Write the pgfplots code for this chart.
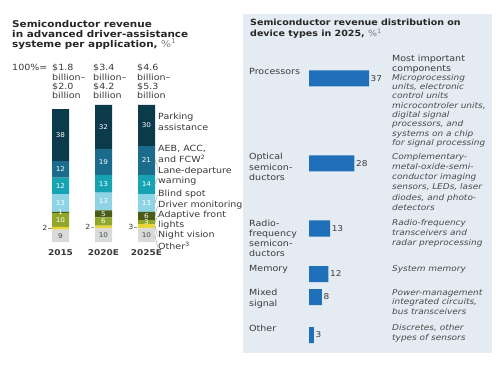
\documentclass[border=0pt]{standalone}
\usepackage{pgfplots}
\pgfplotsset{compat=1.18}
\usepackage{fontspec}
\setmainfont{DejaVu Sans}[FakeStretch=1.12]
\definecolor{park}{HTML}{0B3A4B}
\definecolor{aeb}{HTML}{1B6B8C}
\definecolor{lane}{HTML}{17A3B2}
\definecolor{blind}{HTML}{8FD4E4}
\definecolor{dm}{HTML}{4B5C19}
\definecolor{afl}{HTML}{90A72A}
\definecolor{nv}{HTML}{E8D53C}
\definecolor{oth}{HTML}{D8DADB}
\definecolor{panel}{HTML}{E4EBF2}
\definecolor{barblue}{HTML}{1F70B8}
\definecolor{txt}{HTML}{3A3A3A}
\definecolor{desc}{HTML}{4A4A4A}
\begin{document}
\begin{tikzpicture}
\path[use as bounding box, fill=white] (0,0) rectangle (500pt,367pt);
\fill[panel] (243pt,367pt-14pt) rectangle (492pt,367pt-353pt);

% ---------------- left stacked bars ----------------
\begin{axis}[
  at={(39pt,125pt)}, anchor=south west,
  scale only axis, width=129pt, height=137pt,
  xmin=-0.5, xmax=2.5, ymin=0, ymax=100,
  ybar stacked, bar width=17pt,
  axis line style={draw=none}, tick style={draw=none},
  xtick={0,1,2}, xticklabels={2015,2020E,2025E},
  xticklabel style={font=\bfseries\fontsize{8}{9}\selectfont, text=txt, yshift=-4pt},
  ytick=\empty,
  clip=false,
]
\addplot[fill=oth, draw=none] coordinates {(0,9) (1,10) (2,10)};
\addplot[fill=nv, draw=none] coordinates {(0,2) (1,2) (2,3)};
\addplot[fill=afl, draw=none] coordinates {(0,10) (1,6) (2,3)};
\addplot[fill=dm, draw=none] coordinates {(0,1) (1,5) (2,6)};
\addplot[fill=blind, draw=none] coordinates {(0,13) (1,13) (2,13)};
\addplot[fill=lane, draw=none] coordinates {(0,12) (1,13) (2,14)};
\addplot[fill=aeb, draw=none] coordinates {(0,12) (1,19) (2,21)};
\addplot[fill=park, draw=none] coordinates {(0,38) (1,32) (2,30)};
\end{axis}

% overlay axis with the segment values at segment centres
\begin{axis}[
  at={(39pt,125pt)}, anchor=south west,
  scale only axis, width=129pt, height=137pt,
  xmin=-0.5, xmax=2.5, ymin=0, ymax=100,
  hide axis, clip=false,
  point meta=explicit symbolic,
  nodes near coords,
  nodes near coords align=center,
  nodes near coords style={font=\fontsize{6.5}{7}\selectfont, inner sep=0pt, anchor=center},
]
\addplot[draw=none, mark=none, nodes near coords style={text=white}] table[meta=lab] {
x y lab
0 16 10
0 21.5 1
0 28.5 13
0 41 12
0 53 12
0 78 38
1 15 6
1 20.5 5
1 29.5 13
1 42.5 13
1 58.5 19
1 84 32
2 14.5 3
2 19 6
2 28.5 13
2 42 14
2 59.5 21
2 85 30
};
\addplot[draw=none, mark=none, nodes near coords style={text=desc}] table[meta=lab] {
x y lab
0 4.5 9
1 5 10
2 5 10
};
\end{axis}

% ---------------- right horizontal bars ----------------
\begin{axis}[
  at={(309pt,17pt)}, anchor=south west,
  scale only axis, width=60pt, height=290pt,
  xmin=0, xmax=37, ymin=-350, ymax=-60,
  xbar, bar width=16pt,
  hide axis, clip=false,
  point meta=x,
  /pgf/number format/assume math mode=true,
  nodes near coords,
  nodes near coords style={font=\fontsize{8}{9}\selectfont, text=txt, anchor=west, inner sep=1.5pt},
]
\addplot[fill=barblue, draw=none] coordinates {(37,-78.5) (28,-163.5) (13,-228.5) (12,-274) (8,-297) (3,-335)};
\end{axis}

% ---------------- texts (pixel coords from top-left) ----------------
\begin{scope}[x=1pt, y=-1pt, shift={(0,367pt)},
  lbl/.style={anchor=north west, inner sep=0pt, align=left, text=txt, font=\fontsize{8.5}{10.5}\selectfont},
  ttl/.style={anchor=north west, inner sep=0pt, align=left, text=black!85, font=\bfseries\fontsize{9.3}{10}\selectfont},
  dsc/.style={anchor=north west, inner sep=0pt, align=left, text=desc, font=\itshape\fontsize{8}{9.3}\selectfont},
]
% left title
\node[ttl] at (12,20) {Semiconductor revenue\\in advanced driver-assistance\\systeme per application, {\mdseries\color{gray}\%\textsuperscript{1}}};
\node[lbl, font=\fontsize{8.5}{9.4}\selectfont] at (12,64) {100\%=};
\node[lbl, font=\fontsize{8.5}{9.4}\selectfont] at (52,64) {\$1.8\\billion–\\\$2.0\\billion};
\node[lbl, font=\fontsize{8.5}{9.4}\selectfont] at (93,64) {\$3.4\\billion–\\\$4.2\\billion};
\node[lbl, font=\fontsize{8.5}{9.4}\selectfont] at (137,64) {\$4.6\\billion–\\\$5.3\\billion};
% left series labels
\node[lbl] at (158,113) {Parking\\assistance};
\node[lbl] at (158,145) {AEB, ACC,\\and FCW\textsuperscript{2}};
\node[lbl, font=\fontsize{8.5}{9.5}\selectfont] at (158,167) {Lane-departure\\warning};
\node[lbl] at (158,190) {Blind spot};
\node[lbl] at (158,201) {Driver monitoring};
\node[lbl, font=\fontsize{8.5}{9.5}\selectfont] at (158,211) {Adaptive front\\lights};
\node[lbl] at (158,231) {Night vision};
\node[lbl] at (158,242) {Other\textsuperscript{3}};
% connectors
\begin{scope}[draw=gray!80, line width=0.4pt]
\draw (155,160) -- (157.5,166) -- (157.5,172);
\draw (155,184) -- (157.5,178);
\draw (155,203) -- (157.5,195);
\draw (155,216) -- (157.5,206);
\draw (155,222) -- (157.5,216);
\draw (155,226) -- (157.5,236);
\draw (155,235) -- (157.5,247);
\draw (48,228) -- (52,228);
\draw (91,227) -- (94,227);
\draw (134,227) -- (137,227);
\end{scope}
\node[lbl, font=\fontsize{7}{8}\selectfont, anchor=east] at (47.5,228) {2};
\node[lbl, font=\fontsize{7}{8}\selectfont, anchor=east] at (90.5,227) {2};
\node[lbl, font=\fontsize{7}{8}\selectfont, anchor=east] at (133.5,227) {3};

% right title
\node[ttl, font=\bfseries\fontsize{8.5}{10.5}\selectfont] at (250,19) {Semiconductor revenue distribution on\\device types in 2025, {\mdseries\color{gray}\%\textsuperscript{1}}};
\node[lbl, font=\fontsize{8.5}{10}\selectfont] at (392,55) {Most important\\components};
% categories
\node[lbl] at (249,68) {Processors};
\node[lbl] at (249,153) {Optical\\semicon-\\ductors};
\node[lbl, font=\fontsize{8.5}{10}\selectfont] at (249,220) {Radio-\\frequency\\semicon-\\ductors};
\node[lbl] at (249,265) {Memory};
\node[lbl] at (249,289) {Mixed\\signal};
\node[lbl] at (249,325) {Other};
% descriptions
\node[dsc] at (392,74) {Microprocessing\\units, electronic\\control units\\microcontroler units,\\digital signal\\processors, and\\systems on a chip\\for signal processing};
\node[dsc, font=\itshape\fontsize{8}{10.2}\selectfont] at (392,153) {Complementary-\\metal-oxide-semi-\\conductor imaging\\sensors, LEDs, laser\\diodes, and photo-\\detectors};
\node[dsc, font=\itshape\fontsize{8}{10}\selectfont] at (392,219) {Radio-frequency\\transceivers and\\radar preprocessing};
\node[dsc] at (392,265) {System memory};
\node[dsc, font=\itshape\fontsize{8}{9.6}\selectfont] at (392,289) {Power-management\\integrated circuits,\\bus transceivers};
\node[dsc, font=\itshape\fontsize{8}{10}\selectfont] at (392,324) {Discretes, other\\types of sensors};
\end{scope}
\end{tikzpicture}
\end{document}
